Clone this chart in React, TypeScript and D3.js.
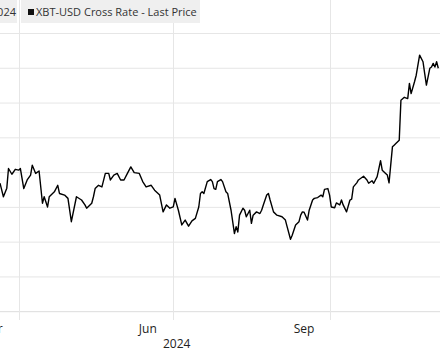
import { useRef, useEffect } from 'react';
import * as d3 from 'd3';

const WIDTH = 440;
const HEIGHT = 352;

// daily closes
const dates = [
  '2024-03-21', '2024-03-23', '2024-03-25', '2024-03-26', '2024-03-28', '2024-03-30',
  '2024-04-01', '2024-04-02', '2024-04-04', '2024-04-06', '2024-04-08', '2024-04-09',
  '2024-04-11', '2024-04-13', '2024-04-15', '2024-04-16', '2024-04-18', '2024-04-19',
  '2024-04-22', '2024-04-24', '2024-04-25', '2024-04-28', '2024-04-30', '2024-05-02',
  '2024-05-05', '2024-05-08', '2024-05-10', '2024-05-11', '2024-05-14', '2024-05-15',
  '2024-05-16', '2024-05-18', '2024-05-20', '2024-05-22', '2024-05-24', '2024-05-25',
  '2024-05-27', '2024-05-29', '2024-05-31', '2024-06-02', '2024-06-04', '2024-06-06',
  '2024-06-08', '2024-06-11', '2024-06-13', '2024-06-15', '2024-06-18', '2024-06-20',
  '2024-06-23', '2024-06-25', '2024-06-27', '2024-06-29', '2024-07-01', '2024-07-02',
  '2024-07-04', '2024-07-06', '2024-07-08', '2024-07-10', '2024-07-12', '2024-07-14',
  '2024-07-16', '2024-07-17', '2024-07-18', '2024-07-19', '2024-07-21', '2024-07-23',
  '2024-07-24', '2024-07-25', '2024-07-26', '2024-07-27', '2024-07-29', '2024-07-30',
  '2024-08-01', '2024-08-02', '2024-08-04', '2024-08-06', '2024-08-07', '2024-08-08',
  '2024-08-09', '2024-08-11', '2024-08-12', '2024-08-13', '2024-08-15', '2024-08-16',
  '2024-08-17', '2024-08-19', '2024-08-21', '2024-08-22', '2024-08-23', '2024-08-25',
  '2024-08-26', '2024-08-27', '2024-08-29', '2024-08-31', '2024-09-03', '2024-09-05',
  '2024-09-06', '2024-09-08', '2024-09-09', '2024-09-11', '2024-09-13', '2024-09-14',
  '2024-09-15', '2024-09-16', '2024-09-18', '2024-09-19', '2024-09-21', '2024-09-22',
  '2024-09-24', '2024-09-26', '2024-09-27', '2024-09-28', '2024-09-30', '2024-10-01',
  '2024-10-02', '2024-10-04', '2024-10-05', '2024-10-07', '2024-10-08', '2024-10-09',
  '2024-10-11', '2024-10-13', '2024-10-14', '2024-10-15', '2024-10-17', '2024-10-18',
  '2024-10-20', '2024-10-21', '2024-10-23', '2024-10-24', '2024-10-26', '2024-10-27',
  '2024-10-29', '2024-10-31', '2024-11-01', '2024-11-03', '2024-11-04', '2024-11-05',
  '2024-11-07', '2024-11-08', '2024-11-09', '2024-11-11', '2024-11-12', '2024-11-14',
  '2024-11-16', '2024-11-17', '2024-11-18', '2024-11-20', '2024-11-21', '2024-11-23',
  '2024-11-25', '2024-11-26', '2024-11-27', '2024-11-29', '2024-11-30', '2024-12-01',
  '2024-12-02', '2024-12-03', '2024-12-04',
];

const prices = [
  67400, 64100, 66200, 71000, 69600, 70800,
  70600, 71000, 66100, 68200, 69400, 71800,
  69800, 70400, 62500, 64100, 61600, 64100,
  65300, 66900, 64900, 64500, 63700, 58000,
  64100, 63300, 62100, 61300, 62500, 64100,
  66100, 66900, 66500, 69800, 69800, 68200,
  69400, 69800, 68200, 68200, 69800, 71400,
  70000, 69800, 67800, 66500, 66900, 65700,
  64500, 60400, 62100, 61300, 61600, 63700,
  60800, 57200, 58400, 56900, 58200, 58800,
  61600, 64900, 65300, 64900, 67800, 68300,
  67800, 66100, 65900, 67800, 68300, 67800,
  65300, 64900, 60800, 55100, 56800, 55500,
  59600, 61300, 60800, 59200, 60800, 57600,
  59600, 60400, 60000, 60800, 62100, 64500,
  64900, 63300, 60400, 59600, 59200, 58400,
  56800, 53700, 54700, 57200, 58000, 59600,
  60400, 60300, 58400, 60800, 63300, 63700,
  63900, 64500, 64100, 65900, 66100, 64500,
  61600, 61400, 62600, 62100, 63300, 62100,
  60400, 63300, 63500, 66500, 67500, 68200,
  68800, 69100, 68200, 67400, 68000, 67400,
  69000, 72900, 70600, 69800, 69400, 67500,
  76300, 76700, 77100, 77900, 87700, 88400,
  88100, 91800, 89300, 92200, 93800, 98700,
  97100, 94200, 91400, 95500, 95800, 96700,
  95800, 97100, 95500,
];

const yGridValues = [36000, 44500, 53000, 61500, 70000, 78500, 87000, 95500, 104000];
const quarterStarts = ['2024-04-01', '2024-07-01', '2024-10-01'];
const monthLabels = ['Mar', 'Jun', 'Sep'];
const monthLabelDates = ['2024-03-16', '2024-06-16', '2024-09-16'];
const yearLabel = '2024';
const yearLabelDate = '2024-07-03';
const legendRange = '03/21/2024 - 12/04/2024';
const legendSeries = 'XBT-USD Cross Rate - Last Price';

const FONT = '"Open Sans", "DejaVu Sans", sans-serif';

export default function App() {
  const svgRef = useRef<SVGSVGElement>(null);

  useEffect(() => {
    const svg = d3.select(svgRef.current);
    svg.selectAll('*').remove();

    const parse = d3.timeParse('%Y-%m-%d');
    const data = dates.map((d, i) => ({ date: parse(d) as Date, value: prices[i] }));

    const x = d3
      .scaleTime()
      .domain([parse('2024-03-21') as Date, parse('2024-12-05') as Date])
      .range([0, WIDTH]);
    const y = d3.scaleLinear().domain([36000, 104000]).range([311.7, 33.5]);

    svg.append('rect').attr('width', WIDTH).attr('height', HEIGHT).attr('fill', '#fff');

    // horizontal grid (bottom one doubles as the axis line)
    yGridValues.forEach((v) => {
      svg
        .append('line')
        .attr('x1', 0)
        .attr('x2', WIDTH)
        .attr('y1', y(v))
        .attr('y2', y(v))
        .attr('stroke', v === yGridValues[0] ? '#dcdcdc' : '#e6e6e6')
        .attr('stroke-width', 1);
    });

    // vertical grid at quarter starts, running down past the axis as ticks
    quarterStarts.forEach((d) => {
      const xv = Math.round(x(parse(d) as Date)) + 0.5;
      svg
        .append('line')
        .attr('x1', xv)
        .attr('x2', xv)
        .attr('y1', 0)
        .attr('y2', 320)
        .attr('stroke', '#e6e6e6')
        .attr('stroke-width', 1);
    });

    // legend boxes
    const lg = svg.append('g');
    lg.append('rect').attr('x', -5).attr('y', 0).attr('width', 22).attr('height', 23).attr('fill', '#efefef');
    lg.append('rect').attr('x', 21).attr('y', 0).attr('width', 179).attr('height', 23).attr('fill', '#efefef');
    lg.append('text')
      .attr('x', 16)
      .attr('y', 16)
      .attr('text-anchor', 'end')
      .attr('font-family', FONT)
      .attr('font-size', 11)
      .attr('fill', '#333')
      .text(legendRange);
    lg.append('rect').attr('x', 28).attr('y', 9).attr('width', 6).attr('height', 6).attr('fill', '#111');
    lg.append('text')
      .attr('x', 36)
      .attr('y', 16)
      .attr('font-family', FONT)
      .attr('font-size', 11)
      .attr('fill', '#333')
      .text(legendSeries);

    // price line
    const line = d3
      .line<{ date: Date; value: number }>()
      .x((d) => x(d.date))
      .y((d) => y(d.value));
    svg
      .append('path')
      .datum(data)
      .attr('d', line)
      .attr('fill', 'none')
      .attr('stroke', '#000')
      .attr('stroke-width', 1.4)
      .attr('stroke-linejoin', 'round');

    // month labels
    monthLabels.forEach((m, i) => {
      svg
        .append('text')
        .attr('x', x(parse(monthLabelDates[i]) as Date))
        .attr('y', 333)
        .attr('text-anchor', 'middle')
        .attr('font-family', FONT)
        .attr('font-size', 12)
        .attr('fill', '#222')
        .text(m);
    });

    svg
      .append('text')
      .attr('x', x(parse(yearLabelDate) as Date))
      .attr('y', 348)
      .attr('text-anchor', 'middle')
      .attr('font-family', FONT)
      .attr('font-size', 12)
      .attr('fill', '#222')
      .text(yearLabel);
  }, []);

  return (
    <svg
      ref={svgRef}
      width={WIDTH}
      height={HEIGHT}
      style={{ position: 'absolute', left: 0, top: 0, display: 'block', overflow: 'hidden' }}
    />
  );
}
